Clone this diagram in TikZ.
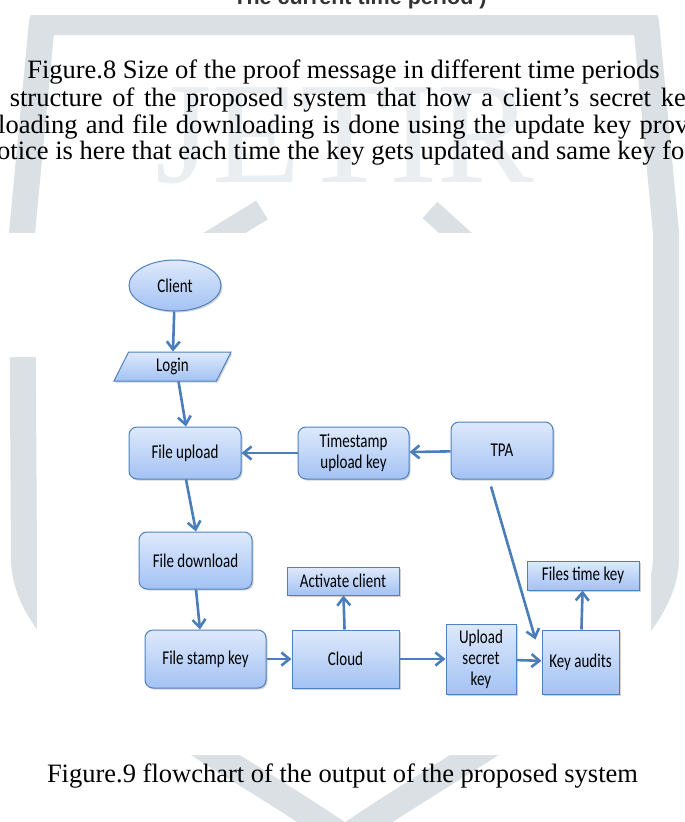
\documentclass[tikz,border=0pt]{standalone}
\usepackage{fontspec}
\setmainfont{Liberation Serif}
\newfontfamily\chartfont[FakeStretch=0.77]{Carlito}
\newfontfamily\headfont{Liberation Sans}
\usetikzlibrary{arrows.meta,shapes.geometric,shadows,calc}
\definecolor{boxline}{RGB}{79,129,189}
\definecolor{boxtop}{RGB}{222,233,252}
\definecolor{boxbottom}{RGB}{163,194,244}
\definecolor{flowline}{RGB}{74,126,187}
\definecolor{wmgray}{RGB}{218,224,228}
\definecolor{wmlight}{RGB}{235,238,240}
\begin{document}
\begin{tikzpicture}
      [x=1pt, y=-1pt,
       box/.style={draw=boxline, line width=1pt, top color=boxtop, bottom color=boxbottom,
         drop shadow={shadow xshift=1.5pt, shadow yshift=-1.5pt, opacity=0.35},
         inner sep=0pt, align=center, font=\chartfont\fontsize{19.5}{21}\selectfont},
       roundbox/.style={box, rounded corners=8pt},
       body/.style={inner sep=0pt, font=\fontsize{26.5}{27}\selectfont},
       flow/.style={draw=flowline, line width=2.6pt, -{Straight Barb[length=8pt,width=13pt]}}]
      \useasboundingbox (0,0) rectangle (685,822);
      \fill[white] (0,0) rectangle (685,822);
      \node[anchor=base, inner sep=0pt, text=wmlight, font=\fontsize{145}{145}\selectfont](jetir) at (345,182) {JETIR};
      \draw[wmgray, line width=26pt, line join=round] (42,22) -- (646,22) -- (666,233) -- (666,560)
        .. controls (662,660) and (480,745) .. (345,838)
        .. controls (210,745) and (26,660) .. (24,560) -- (22,233) -- cycle;
      \draw[wmgray, line width=22pt] (200,248) -- (262,210);
      \draw[wmgray, line width=22pt] (430,210) -- (472,248);
      \fill[white] (0,0) rectangle (685,15);
      \fill[white] (0,233) -- (651,233) -- (651,755) -- (37,755) -- (37,357) -- (0,357) -- cycle;
      \node[anchor=base, inner sep=0pt, text=black!80, font=\headfont\bfseries\fontsize{21.5}{22}\selectfont](head) at (360,4.5) {The current time period )};
      \node[body, anchor=base](fig8) at (343.5,78) {Figure.8 Size of the proof message in different time periods};
      \node[body, anchor=base west](row1) at (9.6,106) {\makebox[676pt][s]{structure of the proposed system that how a client’s secret ke}};
      \node[body, anchor=base west](row2) at (-2,133) {\makebox[690pt][s]{loading and file downloading is done using the update key prov}};
      \node[body, anchor=base west](row3) at (-3,159) {\makebox[687pt][s]{otice is here that each time the key gets updated and same key fo}};
      \node[ellipse, box, minimum width=92pt, minimum height=51pt](1) at (175,285.5) {Client};
      \node[trapezium, trapezium left angle=49, trapezium right angle=131, trapezium stretches body, box,
        minimum width=117pt, minimum height=29pt](2) at (172.5,366.5) {Login};
      \node[roundbox, minimum width=112pt, minimum height=52pt](3) at (185,453) {File upload};
      \node[roundbox, minimum width=111pt, minimum height=52pt](4) at (353.5,453) {Timestamp\\upload key};
      \node[roundbox, minimum width=102pt, minimum height=57pt](5) at (502,450.5) {TPA};
      \node[roundbox, minimum width=113pt, minimum height=57pt](6) at (195.5,560.5) {File download};
      \node[roundbox, minimum width=121pt, minimum height=58pt](7) at (205.5,659) {File stamp key};
      \node[box, minimum width=107pt, minimum height=58pt](8) at (345.5,659) {Cloud};
      \node[box, minimum width=112pt, minimum height=28pt](9) at (343,581) {Activate client};
      \node[box, minimum width=70pt, minimum height=70pt](10) at (481,659) {Upload\\secret\\key};
      \node[box, minimum width=77pt, minimum height=64pt](11) at (580.5,662) {Key audits};
      \node[box, minimum width=112pt, minimum height=29pt](12) at (583,575.5) {Files time key};
      \coordinate(k) at ($(11.north west)+(-6,10)$);
      \draw[flow](1) -- (2);
      \draw[flow]([xshift=6pt]2.south) -- ([xshift=1pt]3.north);
      \draw[flow](5) -- (4);
      \draw[flow](4) -- (3);
      \draw[flow]([xshift=1pt]3.south) -- ([xshift=0.5pt]6.north);
      \draw[flow]([xshift=0.5pt]6.south) -- ([xshift=-5.5pt]7.north);
      \draw[flow](7) -- (8);
      \draw[flow](8) -- (9);
      \draw[flow](8) -- (10);
      \draw[flow](10) -- (11);
      \draw[flow](11) -- (12);
      \draw[flow]($(5.south)+(-11,7)$) -- (k);
      \node[body, anchor=base](fig9) at (342.5,782) {Figure.9 flowchart of the output of the proposed system};
\end{tikzpicture}
\end{document}
